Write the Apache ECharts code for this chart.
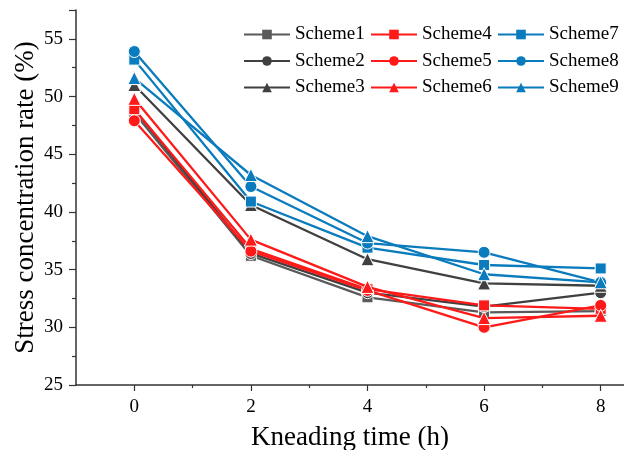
<!DOCTYPE html>
<html>
<head>
<meta charset="utf-8">
<script src="https://cdn.jsdelivr.net/npm/echarts@6/dist/echarts.min.js"></script>
<style>html,body{margin:0;padding:0;background:#fff;}#c{width:624px;height:450px;}</style>
</head>
<body>
<div id="c"></div>
<script>
const times = [0, 2, 4, 6, 8];
const xTickValues = [0, 2, 4, 6, 8];
const xMinorValues = [1, 3, 5, 7];
const names = ['Scheme1','Scheme2','Scheme3','Scheme4','Scheme5','Scheme6','Scheme7','Scheme8','Scheme9'];
const scheme1 = [48.6, 36.2, 32.6, 31.3, 31.4];
const scheme2 = [48.9, 36.4, 33.0, 31.8, 33.0];
const scheme3 = [51.0, 40.6, 35.9, 33.8, 33.6];
const scheme4 = [48.9, 36.8, 33.3, 31.9, 31.6];
const scheme5 = [47.9, 36.6, 33.2, 30.0, 31.9];
const scheme6 = [49.8, 37.6, 33.5, 30.8, 31.0];
const scheme7 = [53.2, 40.9, 36.9, 35.4, 35.1];
const scheme8 = [53.9, 42.2, 37.3, 36.5, 33.9];
const scheme9 = [51.6, 43.2, 37.9, 34.6, 33.9];
const values = [scheme1, scheme2, scheme3, scheme4, scheme5, scheme6, scheme7, scheme8, scheme9];

const colors = ['#5a5a5a','#404040','#404040','#ff1a1a','#ff1a1a','#ff1a1a','#0a7bbd','#0a7bbd','#0a7bbd'];
const symbols = ['rect','circle','triangle','rect','circle','triangle','rect','circle','triangle'];
const symSizes = [11, 12, 13, 11, 12, 13, 11, 12, 13];
const font = 'Liberation Serif';

const series = names.map((n, i) => ({
  name: n,
  type: 'line',
  data: times.map((t, j) => [t, values[i][j]]),
  symbol: symbols[i],
  symbolSize: symSizes[i],
  lineStyle: { width: 2.3, color: colors[i] },
  itemStyle: { color: colors[i], borderColor: '#fff', borderWidth: 1 },
  emphasis: { disabled: true },
  z: 2 + i
}));

function legendCol(left, items) {
  return {
    orient: 'vertical', left: left, top: 25,
    data: items, itemWidth: 46, itemHeight: 12, itemGap: 7.5,
    textStyle: { fontFamily: font, fontSize: 19, color: '#000', lineHeight: 19 },
    itemStyle: { borderWidth: 0 },
    padding: 0, selectedMode: false
  };
}

const chart = echarts.init(document.getElementById('c'));
chart.setOption({
  animation: false,
  backgroundColor: '#fff',
  textStyle: { fontFamily: font },
  grid: { left: 76, top: 10, right: 0, bottom: 65, containLabel: false, outerBoundsMode: 'none' },
  legend: [
    legendCol(243, names.slice(0,3)),
    legendCol(370, names.slice(3,6)),
    legendCol(497, names.slice(6,9))
  ],
  xAxis: [{
    type: 'value', min: -1, max: 8.4,
    name: 'Kneading time (h)', nameLocation: 'middle', nameGap: 39,
    nameTextStyle: { fontFamily: font, fontSize: 27, color: '#000' },
    axisLine: { onZero: false, lineStyle: { color: '#333', width: 1.5 } },
    axisTick: { show: true, customValues: xTickValues, length: 6, lineStyle: { color: '#333', width: 1.2 } },
    axisLabel: { customValues: xTickValues, fontFamily: font, fontSize: 19, color: '#000', margin: 13 },
    splitLine: { show: false }
  }, {
    type: 'value', min: -1, max: 8.4, position: 'bottom',
    axisLine: { show: false, onZero: false },
    axisTick: { show: true, customValues: xMinorValues, length: 3, lineStyle: { color: '#333', width: 1.2 } },
    axisLabel: { show: false },
    splitLine: { show: false }
  }],
  yAxis: {
    type: 'value', min: 25, max: 57.5, interval: 5,
    name: 'Stress concentration rate (%)', nameLocation: 'middle', nameGap: 37,
    nameMoveOverlap: false,
    nameTextStyle: { fontFamily: font, fontSize: 27, color: '#000' },
    axisLine: { show: true, onZero: false, lineStyle: { color: '#333', width: 1.5 } },
    axisTick: { show: true, length: 7, lineStyle: { color: '#333', width: 1.2 } },
    minorTick: { show: true, splitNumber: 2, length: 4, lineStyle: { color: '#333', width: 1.2 } },
    axisLabel: { fontFamily: font, fontSize: 19, color: '#000', margin: 13, showMaxLabel: false },
    splitLine: { show: false }
  },
  series: series
});
</script>
</body>
</html>
